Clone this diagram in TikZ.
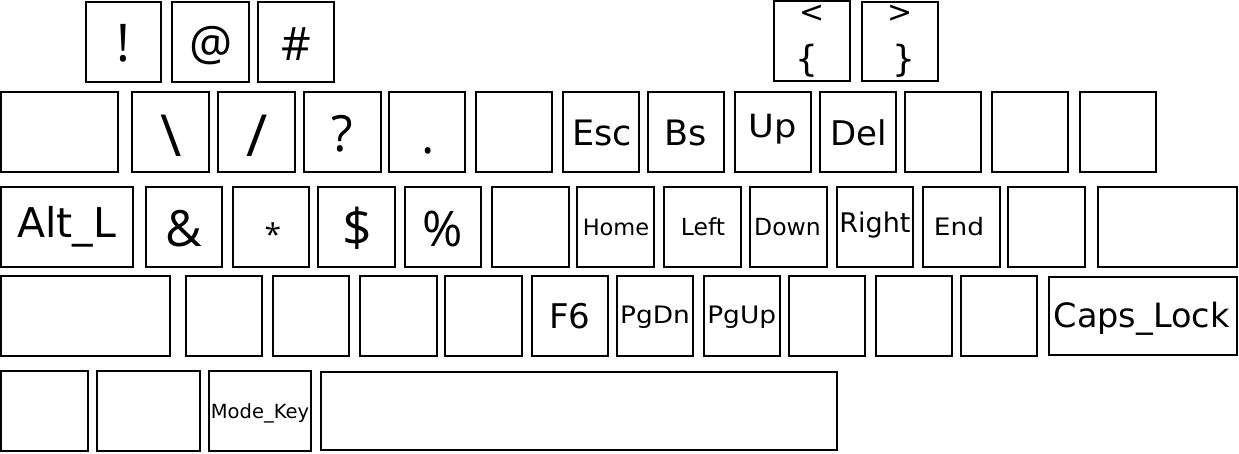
\documentclass[tikz,border=0pt]{standalone}
\usepackage{fontspec}
\setmainfont{DejaVu Sans}
\newfontfamily\symf{Open Sans}
\newcommand\kb[5]{\node[keybox, minimum width={(#4-#2)*1pt}, minimum height={(#5-#3)*1pt}] (#1) at ({(#2+#4)/2},{(#3+#5)/2}) {};}
\newcommand\lb[6]{\node[lab, font={\fontsize{#4}{#4}\selectfont}] (#1) at (#2,#3) {\scalebox{#5}[1]{#6}};}
\newcommand\sy[5]{\node[lab, font={\symf\fontsize{#4}{#4}\selectfont}] (#1) at (#2,#3) {#5};}
\begin{document}
\begin{tikzpicture}[x=1pt,y=-1pt,
  keybox/.style={draw=black, line width=2pt, fill=white, inner sep=0pt, outer sep=0pt},
  lab/.style={anchor=base, inner sep=0pt, outer sep=0pt, text=black}]
\useasboundingbox (0,0) rectangle (1239,453);
% row 0
\kb{k01}{86}{2}{161}{82}
\kb{k02}{172}{2}{249}{82}
\kb{k03}{258}{2}{334}{82}
\kb{k04}{774}{1}{850}{81}
\kb{k05}{862}{2}{938}{81}
% row 1
\kb{k11}{1}{92}{118}{172}
\kb{k12}{132}{92}{209}{172}
\kb{k13}{218}{92}{295}{172}
\kb{k14}{304}{92}{381}{172}
\kb{k15}{389}{92}{465}{172}
\kb{k16}{476}{92}{552}{172}
\kb{k17}{563}{92}{639}{172}
\kb{k18}{648}{92}{724}{172}
\kb{k19}{735}{92}{811}{172}
\kb{k1a}{820}{92}{896}{172}
\kb{k1b}{905}{92}{981}{172}
\kb{k1c}{992}{92}{1068}{172}
\kb{k1d}{1080}{92}{1156}{172}
% row 2
\kb{k21}{1}{187}{133}{267}
\kb{k22}{146}{187}{222}{267}
\kb{k23}{233}{187}{309}{267}
\kb{k24}{318}{187}{395}{267}
\kb{k25}{405}{187}{481}{267}
\kb{k26}{492}{187}{569}{267}
\kb{k27}{577}{187}{654}{267}
\kb{k28}{664}{187}{741}{267}
\kb{k29}{750}{187}{827}{267}
\kb{k2a}{837}{187}{913}{267}
\kb{k2b}{923}{187}{1000}{267}
\kb{k2c}{1008}{187}{1085}{267}
\kb{k2d}{1098}{187}{1237}{267}
% row 3
\kb{k31}{1}{276}{170}{356}
\kb{k32}{186}{276}{262}{356}
\kb{k33}{273}{276}{349}{356}
\kb{k34}{360}{276}{437}{356}
\kb{k35}{445}{276}{522}{356}
\kb{k36}{532}{276}{608}{356}
\kb{k37}{617}{276}{693}{356}
\kb{k38}{704}{276}{780}{356}
\kb{k39}{789}{276}{865}{356}
\kb{k3a}{876}{276}{952}{356}
\kb{k3b}{961}{276}{1037}{356}
\kb{k3c}{1049}{277}{1237}{355}
% row 4
\kb{k41}{1}{371}{88}{451}
\kb{k42}{97}{371}{200}{451}
\kb{k43}{209}{371}{311}{451}
\kb{k44}{321}{372}{837}{450}
% symbol labels
\sy{t01}{123.5}{61}{52}{!}
\sy{t02}{211}{60.5}{48}{@}
\sy{t03}{296.7}{60}{46}{\#}
\lb{t04a}{812}{22}{30}{1}{<}
\lb{t04b}{807}{71}{36}{1}{\{}
\lb{t05a}{900}{22}{30}{1}{>}
\lb{t05b}{904}{71}{36}{1}{\}}
\sy{t12}{171}{156}{58}{\textbackslash}
\sy{t13}{257}{156}{58}{/}
\sy{t14}{342}{151}{50}{?}
\sy{t15}{428}{153}{50}{.}
\sy{t22}{184}{246.7}{50}{\&}
\sy{t23}{273}{245}{30}{*}
\sy{t24}{357}{246}{52}{\$}
\sy{t25}{443}{246.7}{49}{\%}
% word labels
\lb{t17}{602}{145}{35}{1}{Esc}
\lb{t18}{686}{145}{35}{1}{Bs}
\lb{t19}{773}{137}{32}{1.1}{Up}
\lb{t1a}{859}{145}{34}{1}{Del}
\lb{t21}{66.5}{237}{41}{1}{Alt\_L}
\lb{t27}{616}{235}{22.5}{1}{Home}
\lb{t28}{703}{235}{23.5}{1}{Left}
\lb{t29}{787.5}{235}{23.5}{1}{Down}
\lb{t2a}{875}{232}{27}{1}{Right}
\lb{t2b}{959}{235}{24}{1.1}{End}
\lb{t36}{570}{328}{34}{1}{F6}
\lb{t37}{655}{323}{24}{1.1}{PgDn}
\lb{t38}{741.7}{323}{24}{1.1}{PgUp}
\lb{t3c}{1141.5}{327}{33.5}{1}{Caps\_Lock}
\lb{t43}{260}{418}{19.5}{1}{Mode\_Key}
\end{tikzpicture}
\end{document}
